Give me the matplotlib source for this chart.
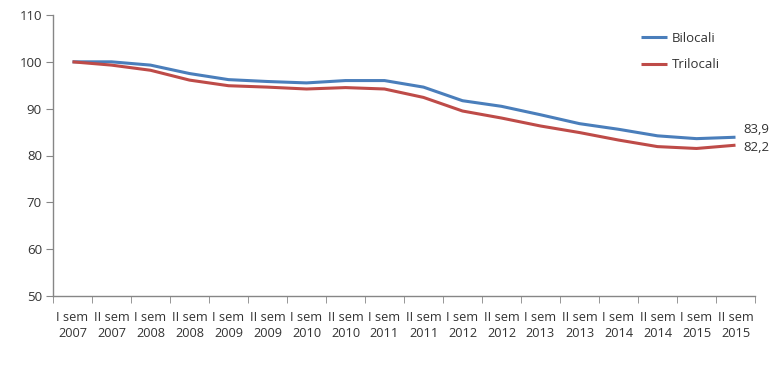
import matplotlib
matplotlib.use("Agg")
import matplotlib.pyplot as plt
import numpy as np

categories = ["I sem\n2007", "II sem\n2007", "I sem\n2008", "II sem\n2008", "I sem\n2009",
              "II sem\n2009", "I sem\n2010", "II sem\n2010", "I sem\n2011", "II sem\n2011",
              "I sem\n2012", "II sem\n2012", "I sem\n2013", "II sem\n2013", "I sem\n2014",
              "II sem\n2014", "I sem\n2015", "II sem\n2015"]
bilocali = [100.0, 100.0, 99.3, 97.5, 96.2, 95.8, 95.5, 96.0, 96.0, 94.6,
            91.7, 90.5, 88.7, 86.8, 85.6, 84.2, 83.6, 83.9]
trilocali = [100.0, 99.3, 98.2, 96.1, 94.9, 94.6, 94.2, 94.5, 94.2, 92.4,
             89.5, 88.0, 86.3, 84.9, 83.3, 81.9, 81.5, 82.2]
end_labels = ["83,9", "82,2"]
yticks = [50, 60, 70, 80, 90, 100, 110]

plt.rcParams['font.family'] = ['Open Sans', 'DejaVu Sans']

fig = plt.figure(figsize=(7.73, 3.69), dpi=100)
ax = fig.add_axes([53/773, 1-296/369, (755-53)/773, (296-15)/369])

x = np.arange(len(categories))
blue = "#4a7ebb"
red = "#be4b48"
ax.plot(x, bilocali, color=blue, lw=2.2, label="Bilocali", solid_capstyle='butt')
ax.plot(x, trilocali, color=red, lw=2.2, label="Trilocali", solid_capstyle='butt')

ax.set_xlim(-0.5, len(categories) - 0.5)
ax.set_ylim(50, 110)
ax.set_yticks(yticks)
ax.set_yticklabels([str(v) for v in yticks], fontsize=9.5, color="#333333")

ax.set_xticks(x)
ax.set_xticklabels(categories, fontsize=9.2, color="#333333", linespacing=1.3)
ax.tick_params(axis='x', length=0, pad=11)
ax.set_xticks(np.arange(-0.5, len(categories)), minor=True)
ax.tick_params(axis='x', which='minor', length=5, color="#868686", direction='out')
ax.tick_params(axis='y', length=5, color="#868686", direction='out', pad=3)

for s in ['top', 'right']:
    ax.spines[s].set_visible(False)
for s in ['left', 'bottom']:
    ax.spines[s].set_color("#868686")
    ax.spines[s].set_linewidth(1.0)

ax.annotate(end_labels[0], xy=(x[-1], bilocali[-1]), xytext=(6, 1), textcoords='offset points',
            fontsize=9.5, color="#333333", va='bottom', ha='left')
ax.annotate(end_labels[1], xy=(x[-1], trilocali[-1]), xytext=(6, -2), textcoords='offset points',
            fontsize=9.5, color="#333333", va='center', ha='left')

leg = ax.legend(loc='upper left', bbox_to_anchor=(641/773, 1-32/369), bbox_transform=fig.transFigure,
                frameon=False, fontsize=9.5, handlelength=2.0, handletextpad=0.3, labelspacing=1.0,
                borderpad=0, borderaxespad=0)
for t in leg.get_texts():
    t.set_color("#333333")

fig.savefig("out.png", dpi=100)
